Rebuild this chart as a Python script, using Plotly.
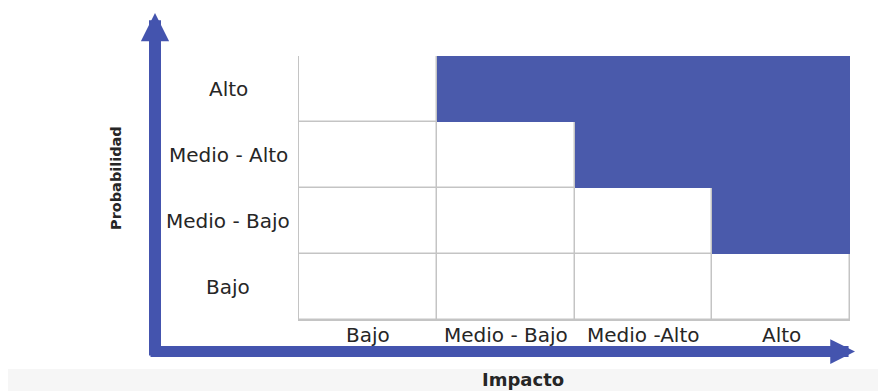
import plotly.graph_objects as go

# Data
impacto = ["Bajo", "Medio - Bajo", "Medio -Alto", "Alto"]          # x categories
probabilidad = ["Bajo", "Medio - Bajo", "Medio - Alto", "Alto"]    # y categories (bottom -> top)
# 1 = high-risk zone (blue), 0 = low (white); rows follow probabilidad order
riesgo = [
    [0, 0, 0, 0],   # Bajo
    [0, 0, 0, 1],   # Medio - Bajo
    [0, 0, 1, 1],   # Medio - Alto
    [0, 1, 1, 1],   # Alto
]
x_title = "Impacto"
y_title = "Probabilidad"

BLUE = "#4a5aab"
ARROW = "#4454ae"
GRID = "#c4c4c4"
TXT = "#262626"

OFF = 8  # page body margin of the browser
W, H = 886, 391
# plot area in screen pixels: x 299..850, y 56..320
PX0, PX1, PY0, PY1 = 299, 850, 56, 320
ML, MT = PX0 - OFF, PY0 - OFF
pw, ph = PX1 - PX0, PY1 - PY0
MR, MB = W - ML - pw, H - MT - ph

def px2paper(x, y):
    # screen pixel -> paper coords
    return (x - PX0) / pw, (PY1 - y) / ph

fig = go.Figure()

# base grid: all cells, with gaps showing the grey background as grid lines
fig.add_trace(go.Heatmap(
    z=riesgo, x=impacto, y=probabilidad,
    colorscale=[[0, "white"], [1, BLUE]], zmin=0, zmax=1,
    xgap=1.5, ygap=1.5, showscale=False, hoverinfo="skip"))
# blue zone without gaps so it looks solid
blue_only = [[1 if v else None for v in row] for row in riesgo]
fig.add_trace(go.Heatmap(
    z=blue_only, x=impacto, y=probabilidad,
    colorscale=[[0, BLUE], [1, BLUE]], zmin=0, zmax=1,
    showscale=False, hoverinfo="skip"))

annotations = []
LBL_FONT = dict(family="DejaVu Sans", size=20, color=TXT)
# y category labels, centred to the left of the grid
cx, _ = px2paper(228, 0)
for cat in probabilidad:
    annotations.append(dict(x=cx, xref="paper", y=cat, yref="y", text=cat,
                            showarrow=False, xanchor="center", yanchor="middle",
                            font=LBL_FONT))
# x category labels, just below the grid
_, ly = px2paper(0, 335)
for cat in impacto:
    annotations.append(dict(x=cat, xref="x", y=ly, yref="paper", text=cat,
                            showarrow=False, xanchor="center", yanchor="middle",
                            font=LBL_FONT))

# axis arrows
tx, ty = px2paper(155, 13)
annotations.append(dict(x=tx, y=ty, xref="paper", yref="paper", ax=0, ay=357 - 13,
                        axref="pixel", ayref="pixel", text="", showarrow=True,
                        arrowhead=2, arrowsize=0.47, arrowwidth=12, arrowcolor=ARROW))
tx, ty = px2paper(855, 351.5)
annotations.append(dict(x=tx, y=ty, xref="paper", yref="paper", ax=149 - 855, ay=0,
                        axref="pixel", ayref="pixel", text="", showarrow=True,
                        arrowhead=2, arrowsize=0.45, arrowwidth=11, arrowcolor=ARROW))

# axis titles
tx, ty = px2paper(523, 379)
annotations.append(dict(x=tx, y=ty, xref="paper", yref="paper", text="<b>" + x_title + "</b>",
                        showarrow=False, font=dict(family="DejaVu Sans", size=18, color=TXT),
                        xanchor="center", yanchor="middle"))
tx, ty = px2paper(116, 178)
annotations.append(dict(x=tx, y=ty, xref="paper", yref="paper", text="<b>" + y_title + "</b>",
                        showarrow=False, textangle=-90,
                        font=dict(family="DejaVu Sans", size=14.5, color=TXT),
                        xanchor="center", yanchor="middle"))

# faint grey band at the bottom of the picture
_, y0 = px2paper(0, 400)
_, y1 = px2paper(0, 369)
x0, _ = px2paper(7, 0)
x1, _ = px2paper(900, 0)
shapes = [dict(type="rect", xref="paper", yref="paper", x0=x0, x1=x1, y0=y0, y1=y1,
               fillcolor="#f6f6f6", line=dict(width=0), layer="below")]

fig.update_layout(
    width=W, height=H,
    margin=dict(l=ML, r=MR, t=MT, b=MB, autoexpand=False),
    paper_bgcolor="white", plot_bgcolor=GRID,
    annotations=annotations, shapes=shapes,
    showlegend=False,
)
fig.update_xaxes(type="category", categoryarray=impacto, range=[-0.5, 3.5],
                 showgrid=False, zeroline=False, ticks="", showticklabels=False,
                 showline=True, linecolor=GRID, linewidth=1, fixedrange=True)
fig.update_yaxes(type="category", categoryarray=probabilidad, range=[-0.5, 3.5],
                 showgrid=False, zeroline=False, showticklabels=False, ticks="",
                 showline=True, linecolor=GRID, linewidth=1, fixedrange=True)

fig.write_html("out.html")
